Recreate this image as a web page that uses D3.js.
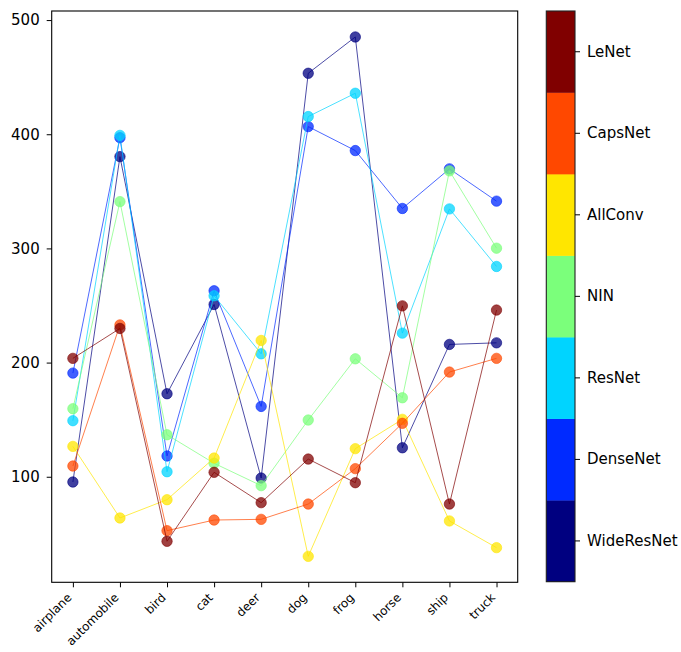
<!DOCTYPE html>
<html><head><meta charset="utf-8">
<script src="https://cdn.jsdelivr.net/npm/d3@7"></script>
<style>body{margin:0;background:#fff} text{font-family:"DejaVu Sans",sans-serif;fill:#000}</style>
</head><body><svg id="c" width="681" height="652"></svg>
<script>
const categories = ["airplane","automobile","bird","cat","deer","dog","frog","horse","ship","truck"];
const models = ["WideResNet","DenseNet","ResNet","NIN","AllConv","CapsNet","LeNet"];
const modelColors = ["#000080","#002aff","#00d4ff","#7bff7b","#ffe600","#ff4800","#800000"];
const WideResNet = [95.4,380.4,172.7,250.9,98.9,453.4,485.2,125.4,215.9,217.3];
const DenseNet   = [190.8,397.0,118.2,262.9,161.6,406.7,385.7,335.0,369.7,341.4];
const ResNet     = [149.1,399.0,104.4,258.5,207.7,415.5,435.9,225.8,334.6,284.2];
const NIN        = [159.6,341.0,136.8,111.8,92.2,149.7,203.3,169.2,367.9,300.2];
const AllConv    = [126.6,63.9,79.9,116.4,219.4,30.3,124.6,150.3,61.3,37.9];
const CapsNet    = [109.4,233.0,52.8,62.1,62.7,76.1,107.1,146.8,191.7,203.7];
const LeNet      = [203.7,229.9,43.5,103.9,77.3,115.5,94.8,249.7,76.1,246.0];
const seriesValues = [WideResNet, DenseNet, ResNet, NIN, AllConv, CapsNet, LeNet];
const yTicks = [100,200,300,400,500];

const svg = d3.select("#c");
const L = 51.7, R = 517.7, T = 11, B = 582.3;

const x = d3.scaleLinear().domain([-0.45, categories.length - 1 + 0.45]).range([L, R]);
const all = seriesValues.flat();
const mn = d3.min(all), mx = d3.max(all), pad = (mx - mn) * 0.05;
const y = d3.scaleLinear().domain([mn - pad, mx + pad]).range([B, T]);

// series
const line = d3.line().x((d,i)=>x(i)).y(d=>y(d));
seriesValues.forEach((vals, si) => {
  const g = svg.append("g");
  g.append("path").attr("d", line(vals)).attr("fill","none")
    .attr("stroke", modelColors[si]).attr("stroke-width",1).attr("stroke-opacity",0.7);
  g.selectAll("circle").data(vals).enter().append("circle")
    .attr("cx",(d,i)=>x(i)).attr("cy",d=>y(d)).attr("r",5.2)
    .attr("fill", modelColors[si]).attr("fill-opacity",0.75)
    .attr("stroke", modelColors[si]).attr("stroke-opacity",0.75).attr("stroke-width",0.8);
});

// y axis
const yAxis = d3.axisLeft(y).tickValues(yTicks).tickSize(5).tickPadding(7).tickFormat(d3.format("d"));
const ya = svg.append("g").attr("transform",`translate(${L},0)`).call(yAxis);
ya.select(".domain").remove();
ya.selectAll("text").style("font-size","15px").attr("fill","#000");
ya.selectAll("line").attr("stroke","#000").attr("stroke-width",1);

// x axis
const xAxis = d3.axisBottom(x).tickValues(d3.range(categories.length)).tickSize(5).tickFormat(i=>categories[i]);
const xa = svg.append("g").attr("transform",`translate(0,${B})`).call(xAxis);
xa.select(".domain").remove();
xa.selectAll("line").attr("stroke","#000").attr("stroke-width",1);
xa.selectAll("text").style("font-size","12px").attr("fill","#000")
  .attr("text-anchor","end").attr("dy",null).attr("y",null)
  .attr("transform","translate(-1,16) rotate(-45)");

// frame
svg.append("rect").attr("x",L).attr("y",T).attr("width",R-L).attr("height",B-T)
  .attr("fill","none").attr("stroke","#000").attr("stroke-width",1.1);

// colorbar
const cbL = 546.3, cbR = 575, cbT = 11, cbB = 581.7;
const cb = d3.scaleBand().domain(models).range([cbB, cbT]).paddingInner(0).paddingOuter(0);
svg.append("g").selectAll("rect").data(models).enter().append("rect")
  .attr("x",cbL).attr("width",cbR-cbL).attr("y",d=>cb(d)).attr("height",cb.bandwidth()+0.3)
  .attr("fill",(d,i)=>modelColors[i]);
svg.append("rect").attr("x",cbL).attr("y",cbT).attr("width",cbR-cbL).attr("height",cbB-cbT)
  .attr("fill","none").attr("stroke","#222").attr("stroke-width",1.1);
const cbAxis = d3.axisRight(cb).tickSize(5).tickPadding(7);
const ca = svg.append("g").attr("transform",`translate(${cbR},0)`).call(cbAxis);
ca.select(".domain").remove();
ca.selectAll("line").attr("stroke","#000").attr("stroke-width",1);
ca.selectAll("text").style("font-size","15px").attr("fill","#000");
</script></body></html>
